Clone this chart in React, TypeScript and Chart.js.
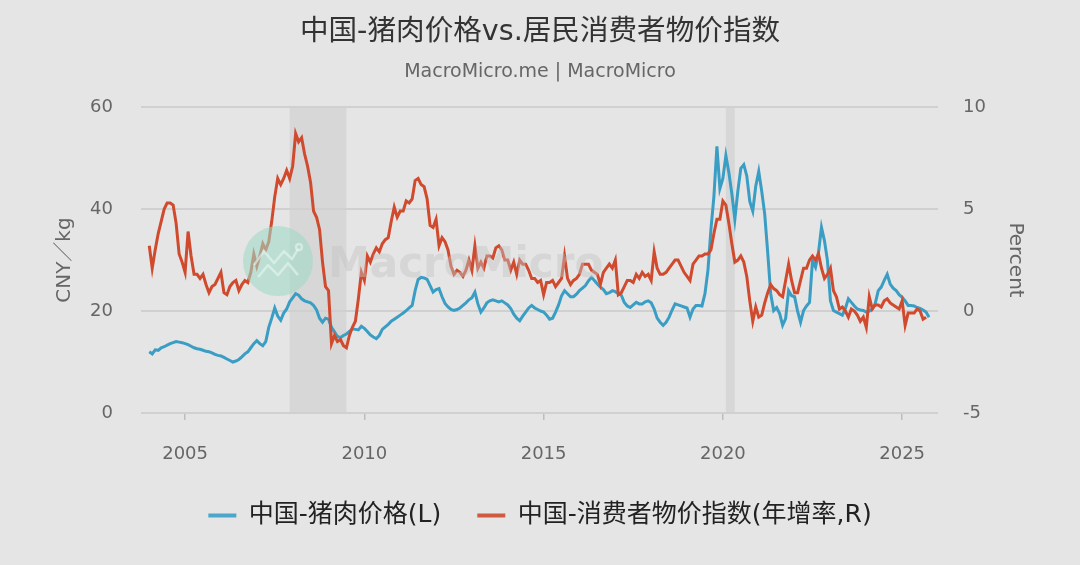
import React, { useEffect, useRef } from 'react';
import { Chart, registerables } from 'chart.js';

Chart.register(...registerables);

const START_YEAR = 2004;

// 中国-猪肉价格 (CNY/kg), monthly from Jan 2004
const porkPrice: number[] = [
  12.0, 11.6, 12.4, 12.3, 12.8, 13.0, 13.3, 13.6, 13.8, 14.0, 13.9, 13.8, // 2004
  13.6, 13.4, 13.1, 12.8, 12.6, 12.5, 12.3, 12.1, 12.0, 11.8, 11.5, 11.3, // 2005
  11.2, 10.9, 10.6, 10.3, 10.0, 10.2, 10.5, 11.0, 11.6, 12.0, 12.8, 13.6, // 2006
  14.2, 13.6, 13.2, 14.0, 16.8, 18.6, 20.6, 19.0, 18.2, 19.6, 20.4, 21.8, // 2007
  22.6, 23.4, 23.1, 22.4, 22.0, 21.8, 21.6, 21.1, 20.2, 18.6, 17.8, 18.6, // 2008
  18.4, 16.8, 15.9, 15.0, 14.8, 15.2, 15.5, 16.0, 16.5, 16.4, 16.3, 17.0, // 2009
  16.6, 16.0, 15.3, 14.9, 14.6, 15.2, 16.4, 16.9, 17.4, 18.0, 18.4, 18.8, // 2010
  19.2, 19.6, 20.1, 20.6, 21.1, 24.0, 26.2, 26.6, 26.5, 26.2, 25.0, 23.7, // 2011
  24.2, 24.4, 22.8, 21.5, 20.8, 20.3, 20.1, 20.3, 20.6, 21.1, 21.6, 22.2, // 2012
  22.6, 23.7, 21.4, 19.8, 20.6, 21.6, 22.0, 22.2, 22.0, 21.8, 22.0, 21.6, // 2013
  21.2, 20.5, 19.4, 18.6, 18.1, 19.0, 19.8, 20.6, 21.1, 20.6, 20.3, 20.0, // 2014
  19.8, 19.2, 18.4, 18.6, 19.8, 21.2, 23.0, 24.0, 23.4, 22.8, 22.8, 23.3, // 2015
  24.0, 24.5, 25.0, 25.9, 26.6, 26.0, 25.3, 24.7, 24.2, 23.4, 23.6, 24.0, // 2016
  23.8, 23.4, 23.1, 21.7, 21.0, 20.7, 21.2, 21.7, 21.4, 21.4, 21.8, 22.0, // 2017
  21.6, 20.4, 18.6, 17.8, 17.2, 17.8, 18.8, 20.2, 21.4, 21.2, 21.0, 20.8, // 2018
  20.6, 18.8, 20.4, 21.1, 21.1, 21.0, 23.4, 28.0, 36.0, 42.5, 52.3, 44.0, // 2019
  46.0, 50.5, 47.2, 43.0, 38.0, 43.5, 48.0, 48.7, 46.5, 41.5, 39.6, 44.5, // 2020
  47.4, 43.5, 39.0, 31.5, 23.4, 20.1, 20.7, 19.5, 17.2, 18.5, 24.0, 23.0, // 2021
  22.8, 20.0, 17.8, 20.1, 21.0, 21.7, 29.9, 28.6, 31.5, 36.4, 33.8, 29.9, // 2022
  22.0, 20.1, 19.8, 19.5, 19.2, 20.5, 22.4, 21.7, 21.0, 20.4, 20.2, 20.1, // 2023
  19.8, 20.0, 20.4, 21.5, 24.0, 24.7, 26.0, 27.2, 25.3, 24.5, 24.0, 23.2, // 2024
  22.7, 22.0, 21.1, 21.1, 21.0, 20.7, 20.5, 20.2, 19.8, 18.8,             // 2025
];

// 中国-消费者物价指数 年增率 (%), monthly from Jan 2004
const cpiYoY: number[] = [
  3.2, 2.1, 3.0, 3.8, 4.4, 5.0, 5.3, 5.3, 5.2, 4.3, 2.8, 2.4, // 2004
  1.9, 3.9, 2.7, 1.8, 1.8, 1.6, 1.8, 1.3, 0.9, 1.2, 1.3, 1.6, // 2005
  1.9, 0.9, 0.8, 1.2, 1.4, 1.5, 1.0, 1.3, 1.5, 1.4, 1.9, 2.8, // 2006
  2.2, 2.7, 3.3, 3.0, 3.4, 4.4, 5.6, 6.5, 6.2, 6.5, 6.9, 6.5, // 2007
  7.1, 8.7, 8.3, 8.5, 7.7, 7.1, 6.3, 4.9, 4.6, 4.0, 2.4, 1.2, // 2008
  1.0, -1.6, -1.2, -1.5, -1.4, -1.7, -1.8, -1.2, -0.8, -0.5, 0.6, 1.9, // 2009
  1.5, 2.7, 2.4, 2.8, 3.1, 2.9, 3.3, 3.5, 3.6, 4.4, 5.1, 4.6, // 2010
  4.9, 4.9, 5.4, 5.3, 5.5, 6.4, 6.5, 6.2, 6.1, 5.5, 4.2, 4.1, // 2011
  4.5, 3.2, 3.6, 3.4, 3.0, 2.2, 1.8, 2.0, 1.9, 1.7, 2.0, 2.5, // 2012
  2.0, 3.2, 2.1, 2.4, 2.1, 2.7, 2.7, 2.6, 3.1, 3.2, 3.0, 2.5, // 2013
  2.5, 2.0, 2.4, 1.8, 2.5, 2.3, 2.3, 2.0, 1.6, 1.6, 1.4, 1.5, // 2014
  0.8, 1.4, 1.4, 1.5, 1.2, 1.4, 1.6, 2.7, 1.6, 1.3, 1.5, 1.6, // 2015
  1.8, 2.3, 2.3, 2.3, 2.0, 1.9, 1.8, 1.3, 1.9, 2.1, 2.3, 2.1, // 2016
  2.5, 0.8, 0.9, 1.2, 1.5, 1.5, 1.4, 1.8, 1.6, 1.9, 1.7, 1.8, // 2017
  1.5, 2.9, 2.1, 1.8, 1.8, 1.9, 2.1, 2.3, 2.5, 2.5, 2.2, 1.9, // 2018
  1.7, 1.5, 2.3, 2.5, 2.7, 2.7, 2.8, 2.8, 3.0, 3.8, 4.5, 4.5, // 2019
  5.4, 5.2, 4.3, 3.3, 2.4, 2.5, 2.7, 2.4, 1.7, 0.5, -0.5, 0.2, // 2020
  -0.3, -0.2, 0.4, 0.9, 1.3, 1.1, 1.0, 0.8, 0.7, 1.5, 2.3, 1.5, // 2021
  0.9, 0.9, 1.5, 2.1, 2.1, 2.5, 2.7, 2.5, 2.8, 2.1, 1.6, 1.8, // 2022
  2.1, 1.0, 0.7, 0.1, 0.2, 0.0, -0.3, 0.1, 0.0, -0.2, -0.5, -0.3, // 2023
  -0.8, 0.7, 0.1, 0.3, 0.3, 0.2, 0.5, 0.6, 0.4, 0.3, 0.2, 0.1, // 2024
  0.5, -0.7, -0.1, -0.1, -0.1, 0.1, 0.0, -0.4, -0.3,           // 2025
];

const xTickYears = [2005, 2010, 2015, 2020, 2025];
const leftTicks = { min: 0, max: 60, step: 20 };
const rightTicks = { min: -5, max: 10, step: 5 };
// shaded periods (decimal years)
const shadedPeriods: [number, number][] = [
  [2007.917, 2009.5],
  [2020.083, 2020.333],
];

const TITLE = '中国-猪肉价格vs.居民消费者物价指数';
const SUBTITLE = 'MacroMicro.me | MacroMicro';
const PORK_LABEL = '中国-猪肉价格(L)';
const CPI_LABEL = '中国-消费者物价指数(年增率,R)';

const BLUE = '#3a9dc4';
const RED = '#d04a2e';
const FONT = "'DejaVu Sans', 'Noto Sans CJK SC', sans-serif";

const toPoints = (arr: number[]) => arr.map((v, i) => ({ x: START_YEAR + i / 12, y: v }));

const bandPlugin = {
  id: 'bands',
  beforeDraw(chart: any) {
    const { ctx, chartArea, scales } = chart;
    const x = scales.x;
    ctx.save();
    ctx.fillStyle = '#d7d7d7';
    for (const [a, b] of shadedPeriods) {
      const x1 = x.getPixelForValue(a);
      const x2 = x.getPixelForValue(b);
      ctx.fillRect(x1, chartArea.top, x2 - x1, chartArea.bottom - chartArea.top);
    }
    ctx.restore();
  },
};

const watermarkPlugin = {
  id: 'watermark',
  afterDatasetsDraw(chart: any) {
    const { ctx, chartArea } = chart;
    const cx = chartArea.left + 137;
    const cy = chartArea.top + 154;
    ctx.save();
    ctx.globalAlpha = 0.6;
    ctx.fillStyle = '#a0d9c6';
    ctx.beginPath();
    ctx.arc(cx, cy, 35, 0, Math.PI * 2);
    ctx.fill();
    ctx.strokeStyle = '#e8f6f1';
    ctx.lineWidth = 2.5;
    ctx.lineJoin = 'round';
    ctx.beginPath();
    ctx.moveTo(cx - 24, cy + 4);
    ctx.lineTo(cx - 14, cy - 10);
    ctx.lineTo(cx - 4, cy + 2);
    ctx.lineTo(cx + 6, cy - 10);
    ctx.lineTo(cx + 14, cy - 2);
    ctx.lineTo(cx + 20, cy - 12);
    ctx.stroke();
    ctx.beginPath();
    ctx.moveTo(cx - 20, cy + 16);
    ctx.lineTo(cx - 10, cy + 4);
    ctx.lineTo(cx, cy + 14);
    ctx.lineTo(cx + 10, cy + 2);
    ctx.lineTo(cx + 20, cy + 14);
    ctx.stroke();
    ctx.beginPath();
    ctx.arc(cx + 21, cy - 14, 3, 0, Math.PI * 2);
    ctx.stroke();
    ctx.globalAlpha = 0.45;
    ctx.fillStyle = '#c4c4c4';
    ctx.font = `bold 42px ${FONT}`;
    ctx.textBaseline = 'alphabetic';
    ctx.textAlign = 'left';
    ctx.fillText('MacroMicro', cx + 50, cy + 16);
    ctx.restore();
  },
};

export default function App() {
  const canvasRef = useRef<HTMLCanvasElement | null>(null);

  useEffect(() => {
    document.body.style.margin = '0';
    const canvas = canvasRef.current;
    if (!canvas) return;
    Chart.defaults.font.family = FONT;

    const chart = new Chart(canvas, {
      type: 'line',
      data: {
        datasets: [
          {
            label: PORK_LABEL,
            data: toPoints(porkPrice),
            borderColor: BLUE,
            backgroundColor: '#4aa6cb',
            borderWidth: 3,
            pointRadius: 0,
            tension: 0,
            yAxisID: 'yL',
            order: 1,
          },
          {
            label: CPI_LABEL,
            data: toPoints(cpiYoY),
            borderColor: RED,
            backgroundColor: '#d05a40',
            borderWidth: 3,
            pointRadius: 0,
            tension: 0,
            yAxisID: 'yR',
            order: 0,
          },
        ],
      },
      options: {
        animation: false,
        responsive: false,
        devicePixelRatio: 1,
        layout: { padding: { left: 0, right: 0, top: 0, bottom: 27 } },
        plugins: {
          title: {
            display: true,
            text: TITLE,
            color: '#333333',
            font: { size: 28.6, weight: 'normal', family: FONT },
            padding: { top: 15, bottom: 0 },
          },
          subtitle: {
            display: true,
            text: SUBTITLE,
            color: '#666666',
            font: { size: 19, weight: 'normal', family: FONT },
            padding: { top: 11, bottom: 24 },
          },
          legend: {
            display: true,
            position: 'bottom',
            labels: {
              color: '#222222',
              font: { size: 25, family: FONT },
              boxWidth: 28,
              boxHeight: 4,
              padding: 36,
              sort: (a: any, b: any) => a.datasetIndex - b.datasetIndex,
              generateLabels: (c: any) =>
                Chart.defaults.plugins.legend.labels
                  .generateLabels(c)
                  .map((l: any) => ({ ...l, lineWidth: 0 })),
            },
          },
          tooltip: { enabled: false },
        },
        scales: {
          x: {
            type: 'linear',
            min: 2003.77,
            max: 2026.0,
            afterBuildTicks: (scale: any) => {
              scale.ticks = xTickYears.map((v) => ({ value: v }));
            },
            afterFit: (scale: any) => {
              scale.height = 54;
            },
            ticks: {
              callback: (v: any) => String(v),
              color: '#666666',
              font: { size: 18 },
              padding: 24,
              maxRotation: 0,
              autoSkip: false,
            },
            grid: {
              drawOnChartArea: false,
              drawTicks: true,
              tickLength: 7,
              color: '#bdbdbd',
              lineWidth: 1.5,
            },
            border: { display: false },
          },
          yL: {
            type: 'linear',
            position: 'left',
            min: leftTicks.min,
            max: leftTicks.max,
            afterFit: (scale: any) => {
              scale.width = 141;
            },
            ticks: {
              stepSize: leftTicks.step,
              color: '#666666',
              font: { size: 18 },
              padding: 28,
            },
            grid: { color: '#d0d0d0', lineWidth: 2, drawTicks: false },
            border: { display: false },
            title: {
              display: true,
              text: 'CNY／kg',
              color: '#666666',
              font: { size: 20 },
              padding: { top: 53, bottom: 0 },
            },
          },
          yR: {
            type: 'linear',
            position: 'right',
            min: rightTicks.min,
            max: rightTicks.max,
            afterFit: (scale: any) => {
              scale.width = 142;
            },
            ticks: {
              stepSize: rightTicks.step,
              color: '#666666',
              font: { size: 18 },
              padding: 25,
            },
            grid: { drawOnChartArea: false, drawTicks: false },
            border: { display: false },
            title: {
              display: true,
              text: 'Percent',
              color: '#666666',
              font: { size: 20 },
              padding: { top: 53, bottom: 0 },
            },
          },
        },
      },
      plugins: [bandPlugin, watermarkPlugin],
    } as any);

    return () => chart.destroy();
  }, []);

  return (
    <div
      style={{
        position: 'fixed',
        left: 0,
        top: 0,
        width: 1080,
        height: 565,
        background: '#e5e5e5',
      }}
    >
      <canvas ref={canvasRef} width={1080} height={565} style={{ width: 1080, height: 565, display: 'block' }} />
    </div>
  );
}
